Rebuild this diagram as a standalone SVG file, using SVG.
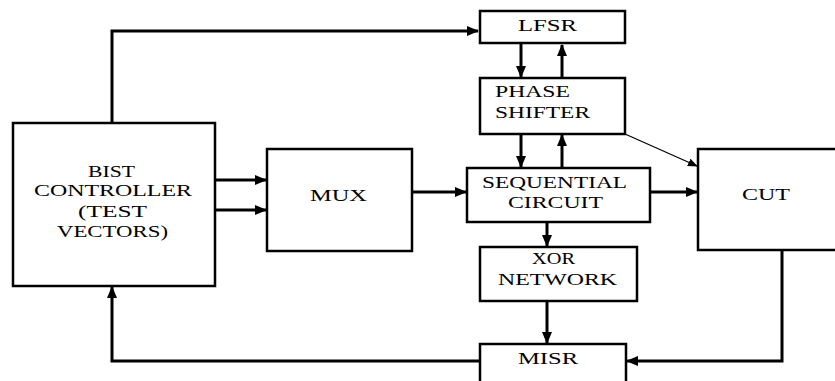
<svg xmlns="http://www.w3.org/2000/svg" width="835" height="381" viewBox="0 0 835 381">
<style>
.box{fill:#fff;stroke:#000;stroke-width:2.5}
.t{font-family:"Liberation Serif","Times New Roman",serif;font-size:17.5px;fill:#000}
.c{fill:none;stroke:#000;stroke-width:3}
.thin{fill:none;stroke:#000;stroke-width:1.3}
</style>
<defs>
<marker id="ah" markerUnits="userSpaceOnUse" markerWidth="12" markerHeight="10" refX="11" refY="5" orient="auto">
<path d="M0,0 L12,5 L0,10 Z" fill="#000"/>
</marker>
<marker id="ahs" markerUnits="userSpaceOnUse" markerWidth="10" markerHeight="8" refX="9" refY="4" orient="auto">
<path d="M0,0 L10,4 L0,8 Z" fill="#000"/>
</marker>
</defs>
<rect width="835" height="381" fill="#fff"/>
<g id="connectors">
<path class="c" d="M112,123 V31 H478" marker-end="url(#ah)"/>
<path class="c" d="M521,44 V77" marker-end="url(#ah)"/>
<path class="c" d="M562,78 V45" marker-end="url(#ah)"/>
<path class="c" d="M521,134 V167" marker-end="url(#ah)"/>
<path class="c" d="M562,168 V135" marker-end="url(#ah)"/>
<path class="c" d="M215,180 H266" marker-end="url(#ah)"/>
<path class="c" d="M215,210 H266" marker-end="url(#ah)"/>
<path class="c" d="M411,192 H466" marker-end="url(#ah)"/>
<path class="c" d="M650,192 H697" marker-end="url(#ah)"/>
<path class="thin" d="M625,134 L697,166" marker-end="url(#ahs)"/>
<path class="c" d="M547,222 V246" marker-end="url(#ah)"/>
<path class="c" d="M547,301 V343" marker-end="url(#ah)"/>
<path class="c" d="M782,250 V361 H627" marker-end="url(#ah)"/>
<path class="c" d="M479,361 H112 V287" marker-end="url(#ah)"/>
</g>
<g id="bist">
<rect class="box" x="13" y="123" width="202" height="163"/>
<text class="t" x="88" y="177" textLength="47" lengthAdjust="spacingAndGlyphs">BIST</text>
<text class="t" x="34" y="196" textLength="158" lengthAdjust="spacingAndGlyphs">CONTROLLER</text>
<text class="t" x="78" y="217" textLength="69" lengthAdjust="spacingAndGlyphs">(TEST</text>
<text class="t" x="57" y="237" textLength="111" lengthAdjust="spacingAndGlyphs">VECTORS)</text>
</g>
<g id="mux">
<rect class="box" x="267" y="149" width="145" height="102"/>
<text class="t" x="310" y="201" textLength="57" lengthAdjust="spacingAndGlyphs">MUX</text>
</g>
<g id="lfsr">
<rect class="box" x="480" y="11" width="145" height="32"/>
<text class="t" x="518" y="31" textLength="59" lengthAdjust="spacingAndGlyphs">LFSR</text>
</g>
<g id="phase-shifter">
<rect class="box" x="480" y="78" width="145" height="56"/>
<text class="t" x="495" y="97" textLength="75" lengthAdjust="spacingAndGlyphs">PHASE</text>
<text class="t" x="495" y="118" textLength="95" lengthAdjust="spacingAndGlyphs">SHIFTER</text>
</g>
<g id="sequential-circuit">
<rect class="box" x="467" y="168" width="183" height="54"/>
<text class="t" x="482" y="188" textLength="145" lengthAdjust="spacingAndGlyphs">SEQUENTIAL</text>
<text class="t" x="508" y="208" textLength="95" lengthAdjust="spacingAndGlyphs">CIRCUIT</text>
</g>
<g id="xor-network">
<rect class="box" x="480" y="247" width="157" height="54"/>
<text class="t" x="532" y="264" textLength="43" lengthAdjust="spacingAndGlyphs">XOR</text>
<text class="t" x="498" y="285" textLength="119" lengthAdjust="spacingAndGlyphs">NETWORK</text>
</g>
<g id="cut">
<rect class="box" x="698" y="149" width="145" height="101"/>
<text class="t" x="742" y="200" textLength="48" lengthAdjust="spacingAndGlyphs">CUT</text>
</g>
<g id="misr">
<rect class="box" x="480" y="344" width="146" height="50"/>
<text class="t" x="518" y="364" textLength="60" lengthAdjust="spacingAndGlyphs">MISR</text>
</g>
</svg>
